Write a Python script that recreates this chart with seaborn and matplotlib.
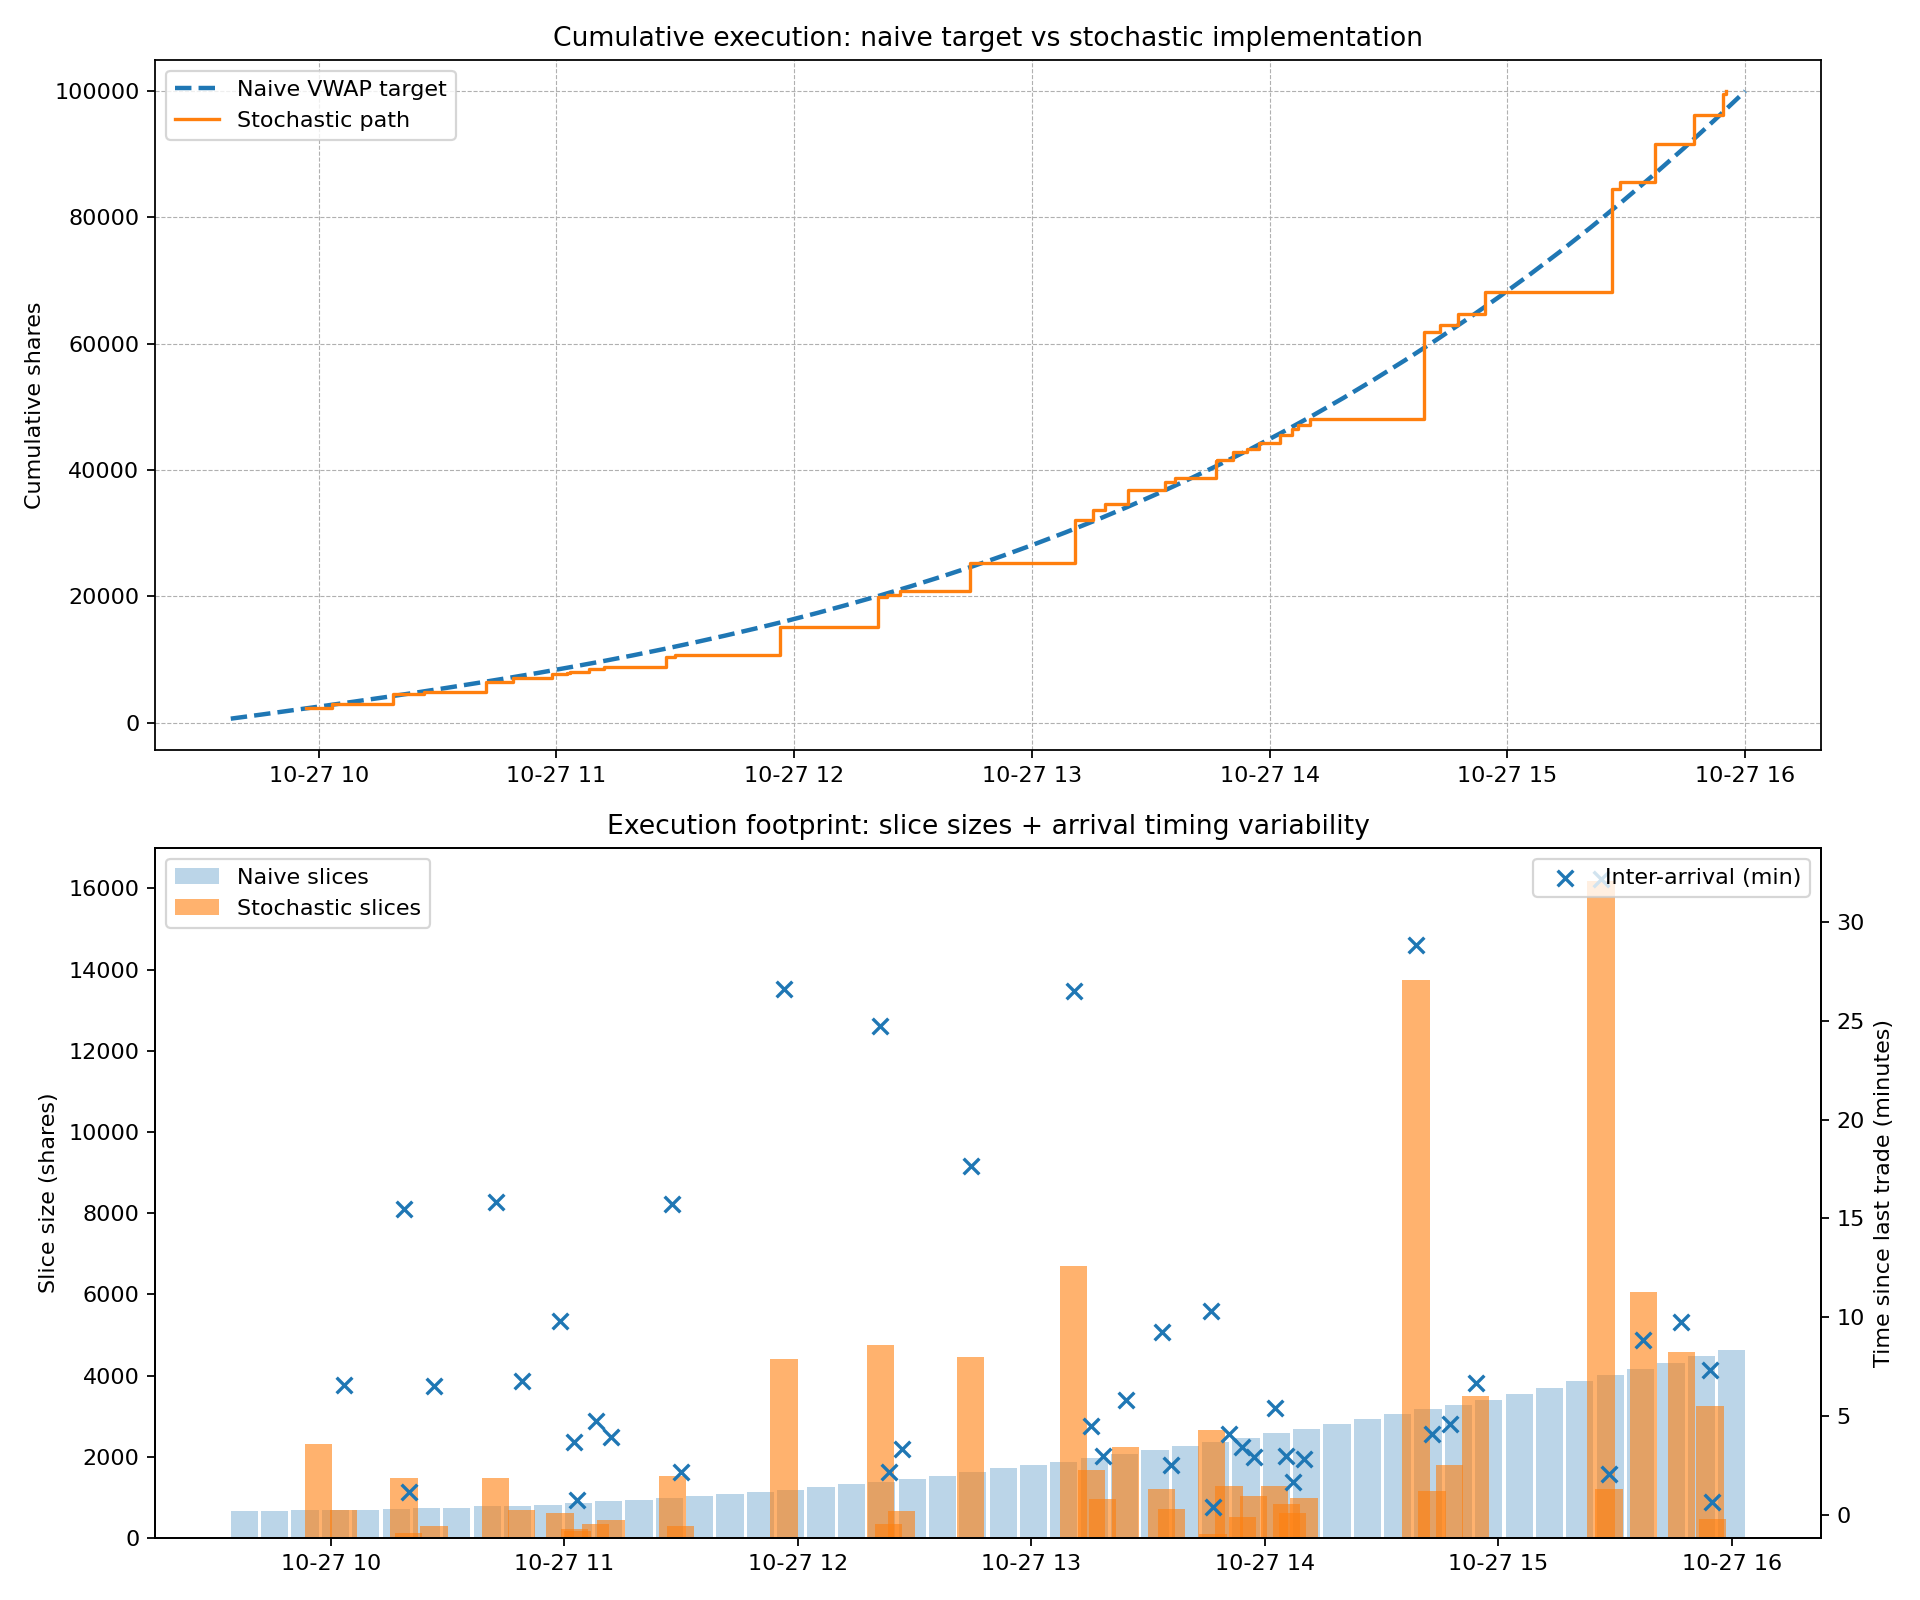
import numpy as np
import pandas as pd
import matplotlib
matplotlib.use("Agg")
import matplotlib.pyplot as plt
import seaborn as sns

DAY = "2025-10-27"

# Naive VWAP schedule: 50 equal-spaced slices between the open and the close
naive_sizes = [
    654, 654, 679, 680, 690, 703, 728, 752, 777, 800,
    826, 875, 900, 949, 998, 1047, 1096, 1145, 1194, 1268,
    1341, 1390, 1464, 1538, 1615, 1714, 1788, 1861, 1960, 2058,
    2157, 2255, 2353, 2452, 2575, 2686, 2809, 2932, 3055, 3178,
    3288, 3411, 3559, 3706, 3860, 4010, 4160, 4310, 4480, 4620,
]
naive_times = pd.date_range(f"{DAY} 09:37:48", f"{DAY} 16:00:00", periods=len(naive_sizes))

# Stochastic implementation: actual fills
stoch_clock = [
    "09:56:45", "10:03:20", "10:18:50", "10:20:00", "10:26:30", "10:42:20",
    "10:49:05", "10:58:55", "11:02:35", "11:03:20", "11:08:05", "11:12:00",
    "11:27:45", "11:29:55", "11:56:30", "12:21:15", "12:23:25", "12:26:45",
    "12:44:25", "13:10:55", "13:15:25", "13:18:25", "13:24:15", "13:33:30",
    "13:36:00", "13:46:20", "13:46:45", "13:50:50", "13:54:15", "13:57:10",
    "14:02:35", "14:05:35", "14:07:15", "14:10:05", "14:38:55", "14:43:00",
    "14:47:35", "14:54:15", "15:26:25", "15:28:30", "15:37:20", "15:47:05",
    "15:54:25", "15:55:05",
]
stoch_sizes = [
    2304, 700, 1490, 130, 290, 1470, 700, 610, 230, 180, 336, 435,
    1540, 290, 4410, 4760, 336, 664, 4460, 6700, 1665, 950, 2230, 1200,
    705, 2670, 100, 1270, 510, 1025, 1270, 830, 615, 975, 13750, 1150,
    1790, 3510, 16190, 1200, 6060, 4570, 3260, 470,
]

naive = pd.DataFrame({"time": naive_times, "size": naive_sizes})
naive["cum"] = naive["size"].cumsum()

stoch = pd.DataFrame({"time": pd.to_datetime([f"{DAY} {c}" for c in stoch_clock]),
                      "size": stoch_sizes})
stoch["cum"] = stoch["size"].cumsum()
stoch["gap_min"] = stoch["time"].diff().dt.total_seconds() / 60.0

bar_width = pd.Timedelta(minutes=7) / pd.Timedelta(days=1)

fig, (ax1, ax2) = plt.subplots(2, 1, figsize=(12, 10))

# Top: cumulative execution
sns.lineplot(data=naive, x="time", y="cum", ax=ax1, color="tab:blue",
             linestyle="--", linewidth=2, label="Naive VWAP target")
sns.lineplot(data=stoch, x="time", y="cum", ax=ax1, color="tab:orange",
             linewidth=1.5, drawstyle="steps-post", label="Stochastic path")
ax1.set_title("Cumulative execution: naive target vs stochastic implementation")
ax1.set_xlabel("")
ax1.set_ylabel("Cumulative shares")
ax1.grid(True, linestyle="--", linewidth=0.5)
ax1.legend(loc="upper left")

# Bottom: slice sizes + inter-arrival times
ax2.bar(naive["time"], naive["size"], width=bar_width, color="tab:blue",
        alpha=0.3, label="Naive slices")
ax2.bar(stoch["time"], stoch["size"], width=bar_width, color="tab:orange",
        alpha=0.6, label="Stochastic slices")
ax2.set_ylabel("Slice size (shares)")
ax2.set_title("Execution footprint: slice sizes + arrival timing variability")
ax2.legend(loc="upper left")

ax3 = ax2.twinx()
sns.scatterplot(data=stoch, x="time", y="gap_min", ax=ax3, marker="x", s=50,
                color="tab:blue", linewidth=1.5, label="Inter-arrival (min)")
ax3.set_ylabel("Time since last trade (minutes)")
ax3.set_xlabel("")
ax3.legend(loc="upper right")

plt.tight_layout()
plt.savefig("out.png", dpi=160)
plt.close()
